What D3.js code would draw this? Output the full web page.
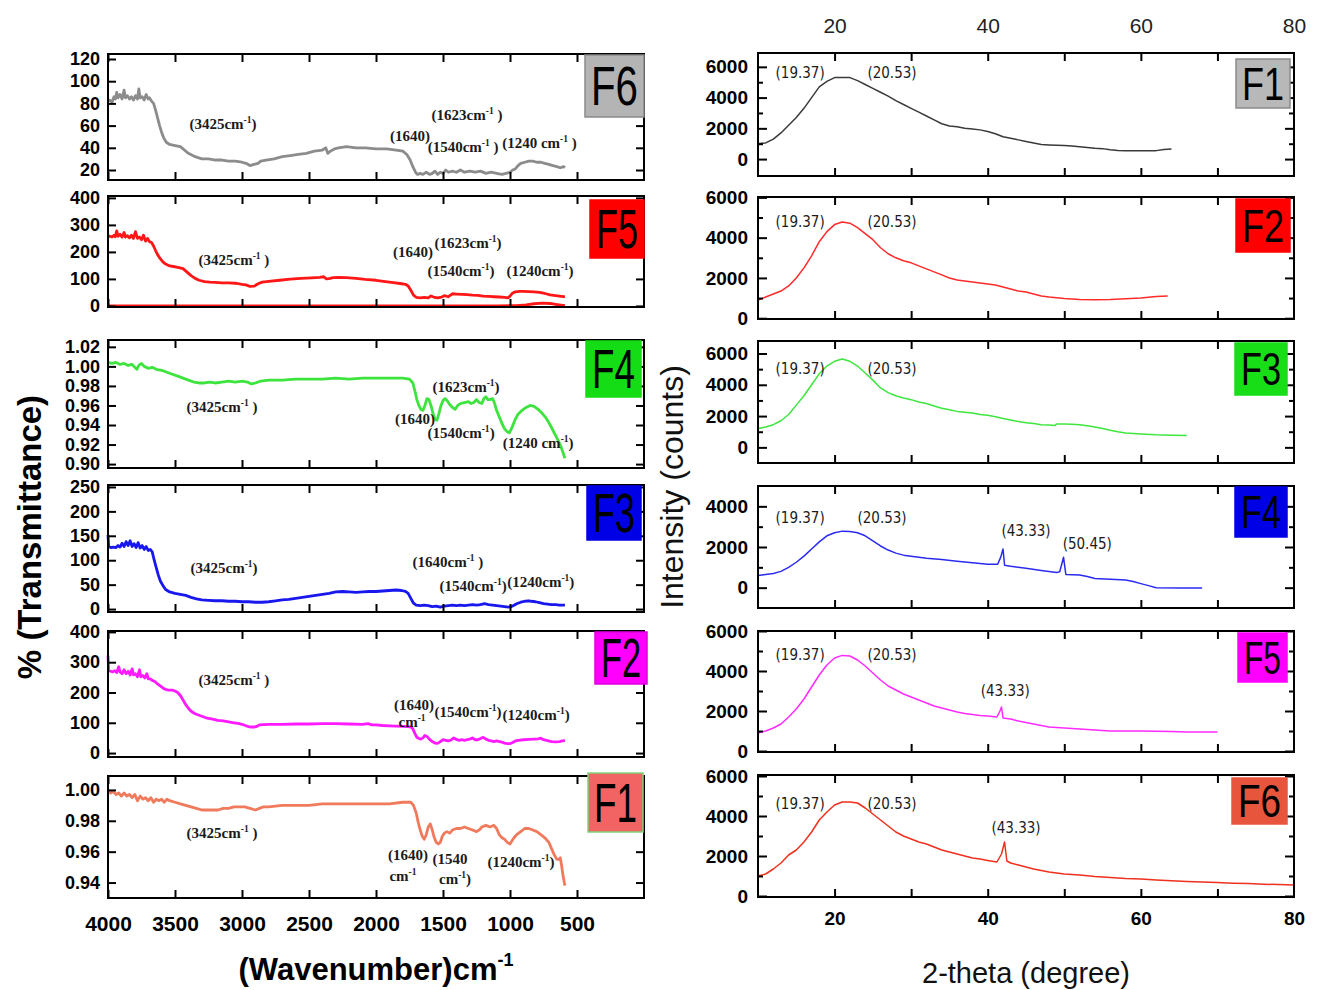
<!DOCTYPE html>
<html><head><meta charset="utf-8">
<script src="https://cdn.jsdelivr.net/npm/d3@7"></script>
<style>body{margin:0;background:#fff}</style>
</head><body>
<svg id="chart" width="1317" height="990"></svg>
<script>
// ================= DATA =================
const ftirXTicks = [4000,3500,3000,2500,2000,1500,1000,500];
const xrdXLabels = [20,40,60,80];
const xrdXTicks = [20,30,40,50,60,70];
const xrdYLabels = [0,2000,4000,6000];
const xrdF4YLabels = [0,2000,4000];

const ftirF6Ticks = [20,40,60,80,100,120];
const ftirF5Ticks = [0,100,200,300,400];
const ftirF4Ticks = [0.90,0.92,0.94,0.96,0.98,1.00,1.02];
const ftirF3Ticks = [0,50,100,150,200,250];
const ftirF2Ticks = [0,100,200,300,400];
const ftirF1Ticks = [0.94,0.96,0.98,1.00];

const ftirF6Domain = [11,124.5];
const ftirF5Domain = [-4,407];
const ftirF4Domain = [0.896,1.027];
const ftirF3Domain = [-6,254];
const ftirF2Domain = [-13,403];
const ftirF1Domain = [0.930,1.009];

const xrdF1Domain = [-1100,6900];
const xrdF2Domain = [-40,6020];
const xrdF3Domain = [-1000,6800];
const xrdF4Domain = [-1000,5000];
const xrdF5Domain = [-50,6000];
const xrdF6Domain = [-50,6050];

const ftirF6 = [[4000,82],[3985,83],[3970,81],[3955,86],[3945,84],[3935,90],[3925,85],[3910,88],[3895,84],[3880,92],[3870,85],[3855,87],[3840,84],[3825,86],[3810,83],[3795,87],[3780,84],[3770,93],[3760,85],[3745,86],[3730,83],[3715,88],[3700,84],[3690,85],[3675,82],[3660,80],[3645,74],[3630,67],[3615,60],[3600,54],[3585,49],[3565,45],[3540,43],[3500,42],[3460,41],[3430,38],[3400,35],[3350,32],[3300,30],[3250,30],[3200,29],[3150,29],[3100,28],[3050,28],[3000,27],[2970,26],[2940,24],[2910,25],[2880,26],[2860,28],[2820,29],[2760,30],[2700,32],[2640,33],[2580,34],[2520,35],[2460,37],[2400,38],[2375,40],[2360,35],[2340,37],[2310,39],[2280,40],[2220,41],[2150,40],[2080,40],[2000,39],[1920,39],[1850,38],[1800,37],[1770,34],[1745,29],[1725,23],[1705,18],[1690,16],[1670,17],[1650,16],[1625,18],[1600,16],[1580,17],[1560,19],[1540,16],[1520,18],[1500,17],[1480,20],[1460,18],[1430,19],[1400,18],[1370,20],[1340,18],[1300,19],[1260,18],[1220,19],[1180,17],[1140,18],[1100,17],[1060,16],[1030,17],[1000,18],[980,20],[960,21],[940,24],[920,26],[890,27],[860,28],[830,28],[800,27],[770,27],[740,26],[710,25],[680,24],[650,23],[625,22],[600,23],[590,22]];

const ftirF5 = [[4000,258],[3985,258],[3970,255],[3955,262],[3945,256],[3935,278],[3925,258],[3910,265],[3895,255],[3880,272],[3870,255],[3855,260],[3840,252],[3825,262],[3810,250],[3795,275],[3780,250],[3765,255],[3750,245],[3735,262],[3720,240],[3705,250],[3690,238],[3675,235],[3660,222],[3645,205],[3630,190],[3610,175],[3590,163],[3570,155],[3540,148],[3500,145],[3470,142],[3440,138],[3410,125],[3380,112],[3350,102],[3320,95],[3280,90],[3240,88],[3200,87],[3150,85],[3100,85],[3050,84],[3000,80],[2970,78],[2940,72],[2910,73],[2880,82],[2850,88],[2800,91],[2720,95],[2640,99],[2560,102],[2480,104],[2420,106],[2390,108],[2370,100],[2350,101],[2320,105],[2280,106],[2220,105],[2150,102],[2080,98],[2000,95],[1930,90],[1870,86],[1820,83],[1780,80],[1760,74],[1740,58],[1720,40],[1700,32],[1670,30],[1640,32],[1610,30],[1590,37],[1570,33],[1540,30],[1510,33],[1490,38],[1460,34],[1430,45],[1400,44],[1360,43],[1320,42],[1280,40],[1240,39],[1200,36],[1160,35],[1120,34],[1080,33],[1040,32],[1015,30],[1000,36],[980,48],[960,52],[930,54],[900,54],[860,53],[820,52],[780,50],[740,46],[700,41],[660,38],[630,36],[600,34],[590,35]];
const ftirF5Base = [[4000,0],[3000,0],[2000,0],[1100,0],[950,1],[880,4],[820,8],[760,10],[700,9],[660,6],[620,3],[590,1]];

const ftirF4 = [[4000,1.004],[3970,1.003],[3940,1.004],[3910,1.002],[3880,1.003],[3850,1.001],[3820,1.002],[3800,0.999],[3785,0.997],[3770,1.001],[3750,1.003],[3730,1.000],[3700,0.998],[3670,0.999],[3640,0.997],[3600,0.996],[3560,0.994],[3520,0.992],[3480,0.990],[3440,0.988],[3400,0.986],[3360,0.984],[3320,0.983],[3280,0.983],[3240,0.984],[3200,0.983],[3150,0.984],[3100,0.985],[3050,0.984],[3000,0.985],[2960,0.984],[2930,0.982],[2900,0.983],[2860,0.985],[2800,0.986],[2700,0.986],[2600,0.987],[2500,0.987],[2400,0.987],[2300,0.988],[2200,0.987],[2100,0.988],[2000,0.988],[1900,0.988],[1800,0.988],[1750,0.987],[1725,0.983],[1710,0.975],[1695,0.966],[1680,0.960],[1665,0.956],[1650,0.955],[1635,0.960],[1620,0.967],[1605,0.966],[1590,0.960],[1575,0.952],[1560,0.946],[1545,0.945],[1530,0.952],[1515,0.960],[1500,0.965],[1485,0.967],[1470,0.965],[1450,0.961],[1430,0.958],[1410,0.956],[1390,0.960],[1370,0.962],[1340,0.963],[1310,0.964],[1290,0.962],[1270,0.963],[1250,0.966],[1230,0.963],[1210,0.962],[1195,0.967],[1180,0.969],[1165,0.966],[1150,0.966],[1130,0.967],[1115,0.962],[1100,0.955],[1085,0.950],[1070,0.945],[1055,0.940],[1040,0.936],[1020,0.933],[1005,0.932],[990,0.936],[975,0.941],[960,0.946],[940,0.951],[910,0.955],[880,0.958],[850,0.960],[820,0.959],[790,0.956],[760,0.952],[730,0.947],[700,0.940],[670,0.932],[640,0.924],[620,0.918],[605,0.912],[590,0.906]];

const ftirF3 = [[4000,152],[3995,128],[3980,126],[3960,127],[3940,126],[3925,130],[3910,127],[3895,135],[3880,128],[3865,138],[3850,130],[3835,140],[3820,128],[3805,134],[3790,126],[3775,136],[3760,125],[3745,130],[3730,122],[3715,128],[3700,120],[3685,122],[3670,117],[3655,100],[3640,85],[3625,70],[3610,58],[3590,48],[3570,40],[3540,35],[3500,32],[3460,30],[3420,28],[3380,24],[3340,21],[3300,19],[3250,18],[3200,17],[3150,17],[3100,16],[3050,16],[3000,15],[2950,15],[2900,14],[2850,14],[2800,15],[2750,17],[2700,19],[2650,20],[2600,22],[2550,24],[2500,26],[2450,28],[2400,30],[2350,32],[2300,35],[2250,36],[2200,35],[2150,34],[2100,35],[2050,36],[2000,36],[1950,37],[1900,38],[1850,39],[1810,38],[1780,36],[1760,32],[1740,22],[1720,12],[1700,8],[1670,7],[1640,8],[1610,7],[1580,5],[1550,6],[1520,4],[1490,6],[1460,7],[1430,8],[1400,7],[1370,8],[1340,7],[1310,8],[1280,9],[1250,8],[1220,9],[1190,11],[1160,9],[1130,8],[1100,7],[1070,6],[1040,5],[1010,4],[990,5],[970,8],[950,11],[920,14],[890,16],[860,17],[840,16],[810,15],[780,13],[750,11],[720,10],[690,9],[660,9],[630,8],[600,8],[590,8]];

const ftirF2 = [[4000,322],[3995,272],[3980,270],[3965,268],[3950,272],[3935,266],[3920,285],[3910,268],[3895,262],[3880,275],[3865,262],[3850,270],[3835,258],[3820,278],[3810,258],[3795,262],[3780,252],[3765,275],[3755,252],[3740,256],[3725,248],[3710,262],[3700,245],[3685,245],[3670,240],[3650,236],[3630,228],[3610,222],[3590,215],[3570,210],[3550,208],[3520,208],[3500,205],[3480,200],[3460,190],[3440,175],[3420,160],[3400,148],[3380,138],[3350,130],[3320,125],[3290,120],[3260,115],[3220,112],[3180,108],[3140,106],[3100,103],[3060,100],[3030,98],[3000,95],[2970,90],[2940,86],[2910,86],[2890,88],[2870,93],[2840,94],[2800,95],[2700,95],[2600,96],[2500,96],[2400,97],[2300,97],[2200,96],[2100,95],[2060,97],[2030,93],[2000,93],[1950,91],[1900,90],[1850,89],[1800,88],[1760,87],[1740,86],[1725,80],[1710,65],[1695,52],[1680,48],[1665,46],[1650,50],[1635,58],[1620,55],[1600,45],[1580,38],[1560,33],[1540,32],[1520,38],[1500,44],[1480,42],[1460,40],[1440,43],[1420,50],[1400,45],[1380,42],[1360,44],[1340,42],[1320,44],[1300,46],[1280,50],[1260,44],[1240,44],[1220,48],[1200,52],[1180,46],[1160,42],[1140,40],[1120,38],[1100,40],[1080,38],[1060,36],[1040,33],[1020,31],[1000,31],[980,35],[960,40],[940,42],[900,44],[860,45],[820,46],[790,47],[770,49],[750,44],[720,41],[690,38],[660,37],[630,38],[610,40],[590,41]];

const ftirF1 = [[4000,1.000],[3980,0.998],[3960,0.999],[3940,0.997],[3920,0.998],[3900,0.996],[3880,0.998],[3860,0.996],[3840,0.997],[3820,0.995],[3800,0.997],[3780,0.993],[3760,0.996],[3740,0.994],[3720,0.995],[3700,0.993],[3680,0.995],[3660,0.992],[3640,0.994],[3620,0.993],[3600,0.994],[3580,0.992],[3560,0.994],[3540,0.993],[3500,0.992],[3460,0.991],[3420,0.990],[3380,0.989],[3340,0.988],[3300,0.987],[3260,0.987],[3220,0.987],[3180,0.987],[3140,0.988],[3100,0.988],[3060,0.989],[3020,0.989],[2980,0.989],[2940,0.988],[2900,0.987],[2870,0.988],[2840,0.989],[2800,0.989],[2700,0.990],[2600,0.990],[2500,0.990],[2400,0.991],[2300,0.991],[2200,0.991],[2100,0.991],[2000,0.991],[1900,0.991],[1800,0.992],[1740,0.992],[1720,0.990],[1700,0.985],[1685,0.979],[1670,0.974],[1655,0.970],[1640,0.968],[1625,0.971],[1610,0.976],[1595,0.978],[1580,0.974],[1565,0.969],[1550,0.966],[1535,0.965],[1520,0.966],[1505,0.970],[1490,0.972],[1470,0.973],[1450,0.972],[1430,0.974],[1400,0.975],[1370,0.975],[1340,0.976],[1310,0.975],[1280,0.974],[1250,0.973],[1230,0.974],[1210,0.976],[1180,0.977],[1150,0.976],[1120,0.977],[1100,0.975],[1080,0.971],[1060,0.969],[1040,0.968],[1020,0.966],[1000,0.965],[985,0.967],[970,0.969],[950,0.971],[920,0.973],[890,0.975],[860,0.975],[830,0.974],[800,0.973],[770,0.971],[740,0.969],[710,0.966],[690,0.962],[670,0.958],[650,0.955],[635,0.955],[625,0.956],[615,0.951],[605,0.945],[595,0.940],[590,0.938]];

const xrdF1 = [[10,1000],[11,1050],[12,1300],[13,1700],[14,2200],[15,2700],[16,3300],[17,4000],[18,4700],[19,5050],[20,5300],[21,5300],[22,5300],[23,5100],[24,4850],[25,4600],[26,4350],[27,4100],[28,3800],[29,3550],[30,3300],[31,3050],[32,2800],[33,2550],[34,2300],[35,2150],[36,2100],[37,2000],[38,1950],[39,1900],[40,1800],[41,1650],[42,1450],[43,1350],[44,1250],[45,1150],[46,1050],[47,950],[48,920],[49,900],[50,880],[51,850],[52,800],[53,750],[54,700],[55,680],[56,600],[57,560],[58,550],[60,550],[62,550],[63,620],[64,650]];
const xrdF2 = [[10,900],[11,1050],[12,1200],[13,1350],[14,1600],[15,2000],[16,2500],[17,3100],[18,3800],[19,4300],[20,4650],[21,4780],[22,4720],[23,4500],[24,4200],[25,3900],[26,3500],[27,3200],[28,3000],[29,2850],[30,2750],[31,2600],[32,2450],[33,2300],[34,2150],[35,2000],[36,1900],[37,1850],[38,1800],[39,1750],[40,1700],[41,1650],[42,1550],[43,1450],[44,1350],[45,1300],[46,1200],[47,1100],[48,1050],[50,980],[52,930],[54,920],[56,930],[58,960],[60,1000],[62,1080],[63.5,1100]];
const xrdF3 = [[10,1200],[11,1300],[12,1450],[13,1700],[14,2100],[15,2700],[16,3300],[17,4000],[18,4700],[19,5200],[20,5500],[21,5650],[22,5500],[23,5200],[24,4750],[25,4300],[26,3800],[27,3500],[28,3300],[29,3150],[30,3050],[31,2900],[32,2800],[33,2650],[34,2500],[35,2400],[36,2300],[37,2250],[38,2200],[39,2100],[40,2050],[41,1950],[42,1850],[43,1750],[44,1650],[45,1580],[46,1520],[47,1450],[48,1430],[48.8,1400],[49,1500],[50,1500],[51,1480],[52,1450],[53,1380],[54,1300],[55,1200],[56,1100],[57,1000],[58,920],[60,850],[62,800],[64,780],[66,760]];
const xrdF4 = [[10,600],[11,650],[12,700],[13,800],[14,1000],[15,1250],[16,1550],[17,1900],[18,2250],[19,2550],[20,2700],[21,2780],[22,2760],[23,2700],[24,2550],[25,2300],[26,2050],[27,1850],[28,1700],[29,1600],[30,1550],[32,1450],[34,1380],[36,1300],[38,1220],[40,1150],[41.3,1150],[41.7,1500],[42.0,1900],[42.2,1100],[43,1050],[45,950],[47,850],[49,750],[49.4,780],[49.7,1200],[49.9,1500],[50.2,650],[52,620],[53,550],[54,450],[56,420],[58,380],[59,300],[60,200],[61,100],[62,0],[65,-20],[68,-20]];
const xrdF5 = [[10,900],[11,1000],[12,1150],[13,1350],[14,1700],[15,2100],[16,2600],[17,3200],[18,3800],[19,4300],[20,4650],[21,4780],[22,4750],[23,4550],[24,4250],[25,3900],[26,3550],[27,3250],[28,3050],[29,2850],[30,2700],[31,2550],[32,2400],[33,2250],[34,2150],[35,2050],[36,1950],[37,1880],[38,1820],[39,1780],[40,1750],[41.2,1700],[41.6,2000],[41.8,2200],[42,1650],[43,1600],[44,1500],[45,1420],[46,1350],[47,1270],[48,1200],[50,1150],[52,1100],[54,1050],[56,1000],[58,1000],[60,1000],[62,990],[64,980],[66,950],[68,950],[70,950]];
const xrdF6 = [[10,1000],[11,1100],[12,1350],[13,1650],[14,2050],[15,2300],[16,2700],[17,3200],[18,3800],[19,4200],[20,4550],[21,4700],[22,4700],[23,4650],[24,4400],[25,4100],[26,3800],[27,3500],[28,3200],[29,3000],[30,2850],[31,2700],[32,2600],[33,2450],[34,2300],[35,2200],[36,2100],[37,2000],[38,1900],[39,1850],[40,1780],[41.2,1700],[41.8,2100],[42.2,2700],[42.5,1750],[43,1650],[44,1550],[45,1450],[46,1350],[47,1280],[48,1200],[50,1100],[52,1050],[54,980],[56,930],[58,880],[60,850],[62,800],[64,760],[66,730],[68,700],[70,670],[72,640],[74,620],[76,590],[78,570],[80,550]];

// annotations: [text, x-value, y-value]  ("^-1" = superscript)
const ftirF6Notes = [["(3425cm^-1)",3142,61.4],["(1623cm^-1 )",1321,70],["(1640)",1746,50.6],["(1540cm^-1 )",1350,40.7],["(1240 cm^-1 )",780,44.3]];
const ftirF5Notes = [["(3425cm^-1 )",3060,170],["(1640)",1724,200],["(1623cm^-1)",1313,233],["(1540cm^-1)",1366,130],["(1240cm^-1)",776,130]];
const ftirF4Notes = [["(1623cm^-1)",1328,0.979],["(3425cm^-1 )",3149,0.958],["(1640)",1709,0.946],["(1540cm^-1)",1365,0.932],["(1240 cm^-1)",790,0.9215]];
const ftirF3Notes = [["(3425cm^-1)",3134,84],["(1640cm^-1 )",1463,96],["(1540cm^-1)",1275,47],["(1240cm^-1)",770,55]];
const ftirF2Notes = [["(3425cm^-1 )",3060,241],["(1640)",1716,159],["cm^-1",1731,102],["(1540cm^-1)",1313,136],["(1240cm^-1)",805,126]];
const ftirF1Notes = [["(3425cm^-1 )",3149,0.972],["(1640)",1761,0.958],["cm^-1",1799,0.9445],["(1540",1448,0.955],["cm^-1)",1410,0.942],["(1240cm^-1)",918,0.9535]];

const xrdF1Notes = [["(19.37)",15.5,5610],["(20.53)",27.5,5610]];
const xrdF2Notes = [["(19.37)",15.5,4800],["(20.53)",27.5,4800]];
const xrdF3Notes = [["(19.37)",15.5,5020],["(20.53)",27.5,5020]];
const xrdF4Notes = [["(19.37)",15.5,3415],["(20.53)",26.2,3415],["(43.33)",45,2780],["(50.45)",53,2146]];
const xrdF5Notes = [["(19.37)",15.5,4800],["(20.53)",27.5,4800],["(43.33)",42.3,3000]];
const xrdF6Notes = [["(19.37)",15.5,4600],["(20.53)",27.5,4600],["(43.33)",43.7,3415]];

// ================= DRAWING =================
const svg = d3.select("#chart");
const LX = d3.scaleLinear().domain([4000,0]).range([108,644]);
const RX = d3.scaleLinear().domain([10,80]).range([758,1294]);

const leftPanels = [
  {name:"F6", data:[ftirF6], domain:ftirF6Domain, ticks:ftirF6Ticks, fmt:d3.format("d"), top:54, bottom:180, color:"#8c8c8c", notes:ftirF6Notes, box:[585,55,59,62], fill:"#b4b4b4", stroke:"#8a8a8a"},
  {name:"F5", data:[ftirF5, ftirF5Base], domain:ftirF5Domain, ticks:ftirF5Ticks, fmt:d3.format("d"), top:196, bottom:307, color:"#ff1616", notes:ftirF5Notes, box:[590,200,54,58], fill:"#ff0000", stroke:"#ff0000"},
  {name:"F4", data:[ftirF4], domain:ftirF4Domain, ticks:ftirF4Ticks, fmt:d3.format(".2f"), top:340, bottom:468, color:"#3ee43e", notes:ftirF4Notes, box:[586,341,55,56], fill:"#15dd15", stroke:"#15dd15"},
  {name:"F3", data:[ftirF3], domain:ftirF3Domain, ticks:ftirF3Ticks, fmt:d3.format("d"), top:485, bottom:612, color:"#1717ee", notes:ftirF3Notes, box:[587,486,54,54], fill:"#0000e6", stroke:"#0000e6"},
  {name:"F2", data:[ftirF2], domain:ftirF2Domain, ticks:ftirF2Ticks, fmt:d3.format("d"), top:631, bottom:757, color:"#ff1aff", notes:ftirF2Notes, box:[595,632,52,52], fill:"#ff00ff", stroke:"#dd00dd"},
  {name:"F1", data:[ftirF1], domain:ftirF1Domain, ticks:ftirF1Ticks, fmt:d3.format(".2f"), top:776, bottom:898, color:"#f07a5c", notes:ftirF1Notes, box:[588,773,55,59], fill:"#f26464", stroke:"#7fd27a"}
];
const rightPanels = [
  {name:"F1", data:xrdF1, domain:xrdF1Domain, labels:xrdYLabels, top:53, bottom:176, color:"#3a3a3a", notes:xrdF1Notes, box:[1236,59,54,49], fill:"#b8b8b8", stroke:"#8a8a8a"},
  {name:"F2", data:xrdF2, domain:xrdF2Domain, labels:xrdYLabels, top:197, bottom:319, color:"#ff2a2a", notes:xrdF2Notes, box:[1236,199,54,53], fill:"#ff0000", stroke:"#ff0000"},
  {name:"F3", data:xrdF3, domain:xrdF3Domain, labels:xrdYLabels, top:341, bottom:463, color:"#3ee63e", notes:xrdF3Notes, box:[1235,343,52,52], fill:"#18de18", stroke:"#18de18"},
  {name:"F4", data:xrdF4, domain:xrdF4Domain, labels:xrdF4YLabels, top:486, bottom:608, color:"#2b2bf0", notes:xrdF4Notes, box:[1235,487,52,50], fill:"#0000e6", stroke:"#0000e6"},
  {name:"F5", data:xrdF5, domain:xrdF5Domain, labels:xrdYLabels, top:631, bottom:752, color:"#ff2aff", notes:xrdF5Notes, box:[1238,633,49,49], fill:"#ff00ff", stroke:"#ff00ff"},
  {name:"F6", data:xrdF6, domain:xrdF6Domain, labels:xrdYLabels, top:775, bottom:897, color:"#f0301e", notes:xrdF6Notes, box:[1232,778,55,46], fill:"#e8553d", stroke:"#e8553d"}
];

function rich(textSel, str, supSize){
  const parts = str.split("^-1");
  parts.forEach((p,i)=>{
    if(i>0){
      textSel.append("tspan").attr("dy",-6).attr("font-size",supSize).text("-1");
      textSel.append("tspan").attr("dy",6).text(p);
    } else textSel.append("tspan").text(p);
  });
}

function styleAxis(g){
  g.select(".domain").remove();
  g.selectAll(".tick line").attr("stroke","#000").attr("stroke-width",2);
}

// Left panels
leftPanels.forEach((p,idx)=>{
  const y = d3.scaleLinear().domain(p.domain).range([p.bottom,p.top]);
  const g = svg.append("g");
  const line = d3.line().x(d=>LX(d[0])).y(d=>y(d[1]));
  g.append("g").selectAll("path").data(p.data).join("path")
    .attr("d",line).attr("fill","none").attr("stroke",p.color)
    .attr("stroke-width",2.8).attr("stroke-linejoin","round");
  g.append("g").attr("transform","translate(108,0)")
    .call(d3.axisLeft(y).tickValues(p.ticks).tickFormat(p.fmt).tickSize(-8).tickPadding(8))
    .call(styleAxis)
    .call(a=>a.selectAll("text").attr("font-family","Liberation Sans, Arial, sans-serif").attr("font-weight","bold").attr("font-size",18).attr("fill","#000"));
  g.append("g").attr("transform","translate(644,0)")
    .call(d3.axisRight(y).tickValues(p.ticks).tickFormat("").tickSize(-8)).call(styleAxis);
  g.append("g").attr("transform",`translate(0,${p.top})`)
    .call(d3.axisTop(LX).tickValues(ftirXTicks).tickFormat("").tickSize(-8)).call(styleAxis);
  const bx = g.append("g").attr("transform",`translate(0,${p.bottom})`)
    .call(d3.axisBottom(LX).tickValues(ftirXTicks).tickSize(-8).tickPadding(18)
      .tickFormat(idx===leftPanels.length-1 ? d3.format("d") : ""))
    .call(styleAxis);
  bx.selectAll("text").attr("font-family","Liberation Sans, Arial, sans-serif").attr("font-weight","bold").attr("font-size",21).attr("fill","#000");
  g.append("rect").attr("x",108).attr("y",p.top).attr("width",644-108).attr("height",p.bottom-p.top)
    .attr("fill","none").attr("stroke","#000").attr("stroke-width",2);
  g.append("rect").attr("x",p.box[0]).attr("y",p.box[1]).attr("width",p.box[2]).attr("height",p.box[3])
    .attr("fill",p.fill).attr("stroke",p.stroke).attr("stroke-width",1.5);
  g.append("text").attr("x",p.box[0]+p.box[2]/2).attr("y",p.box[1]+p.box[3]/2+19)
    .attr("text-anchor","middle").attr("font-family","Liberation Sans, Arial, sans-serif")
    .attr("font-size",56).attr("textLength",p.box[2]-12).attr("lengthAdjust","spacingAndGlyphs")
    .attr("fill","#000").text(p.name);
  p.notes.forEach(n=>{
    const t = g.append("text").attr("x",LX(n[1])).attr("y",y(n[2])+5).attr("text-anchor","middle")
      .attr("font-family","Liberation Serif, Times New Roman, serif").attr("font-weight","bold")
      .attr("font-size",15).attr("fill","#1b1b1b");
    rich(t,n[0],9.5);
  });
});

// Right panels
rightPanels.forEach((p,idx)=>{
  const y = d3.scaleLinear().domain(p.domain).range([p.bottom,p.top]);
  const g = svg.append("g");
  const line = d3.line().x(d=>RX(d[0])).y(d=>y(d[1]));
  g.append("path").datum(p.data).attr("d",line).attr("fill","none").attr("stroke",p.color)
    .attr("stroke-width",1.5).attr("stroke-linejoin","round");
  const minor = d3.range(Math.ceil(p.domain[0]/1000)*1000, p.domain[1]+1, 1000)
    .filter(v=>!p.labels.includes(v) && y(v) > p.top+3 && y(v) < p.bottom-3);
  g.append("g").attr("transform","translate(758,0)")
    .call(d3.axisLeft(y).tickValues(p.labels).tickFormat(d3.format("d")).tickSize(-9).tickPadding(10))
    .call(styleAxis)
    .call(a=>a.selectAll("text").attr("font-family","Liberation Sans, Arial, sans-serif").attr("font-weight","bold").attr("font-size",19).attr("fill","#000"));
  g.append("g").attr("transform","translate(758,0)")
    .call(d3.axisLeft(y).tickValues(minor).tickFormat("").tickSize(-5)).call(styleAxis);
  g.append("g").attr("transform","translate(1294,0)")
    .call(d3.axisRight(y).tickValues(p.labels).tickFormat("").tickSize(-9)).call(styleAxis);
  g.append("g").attr("transform","translate(1294,0)")
    .call(d3.axisRight(y).tickValues(minor).tickFormat("").tickSize(-5)).call(styleAxis);
  g.append("g").attr("transform",`translate(0,${p.top})`)
    .call(d3.axisTop(RX).tickValues(xrdXTicks).tickFormat("").tickSize(-8)).call(styleAxis);
  g.append("g").attr("transform",`translate(0,${p.bottom})`)
    .call(d3.axisBottom(RX).tickValues(xrdXTicks).tickFormat("").tickSize(-8)).call(styleAxis);
  g.append("rect").attr("x",758).attr("y",p.top).attr("width",1294-758).attr("height",p.bottom-p.top)
    .attr("fill","none").attr("stroke","#000").attr("stroke-width",2);
  g.append("rect").attr("x",p.box[0]).attr("y",p.box[1]).attr("width",p.box[2]).attr("height",p.box[3])
    .attr("fill",p.fill).attr("stroke",p.stroke).attr("stroke-width",1.5);
  g.append("text").attr("x",p.box[0]+p.box[2]/2).attr("y",p.box[1]+p.box[3]/2+16)
    .attr("text-anchor","middle").attr("font-family","Liberation Sans, Arial, sans-serif")
    .attr("font-size",47).attr("textLength",p.box[2]-12).attr("lengthAdjust","spacingAndGlyphs")
    .attr("fill","#000").text(p.name);
  p.notes.forEach(n=>{
    g.append("text").attr("x",RX(n[1])).attr("y",y(n[2])+5).attr("text-anchor","middle")
      .attr("font-family","DejaVu Sans Condensed, DejaVu Sans, sans-serif").attr("font-stretch","condensed")
      .attr("font-size",15).attr("fill","#1b1b1b").text(n[0]);
  });
  if(idx===0){
    const tg = g.append("g").attr("transform",`translate(0,${p.top-20})`)
      .call(d3.axisTop(RX).tickValues(xrdXLabels).tickSize(0).tickPadding(0).tickFormat(d3.format("d")));
    tg.select(".domain").remove();
    tg.selectAll("text").attr("font-family","Liberation Sans, Arial, sans-serif").attr("font-size",21).attr("fill","#222");
  }
  if(idx===rightPanels.length-1){
    const bg = g.append("g").attr("transform",`translate(0,${p.bottom+14})`)
      .call(d3.axisBottom(RX).tickValues(xrdXLabels).tickSize(0).tickPadding(0).tickFormat(d3.format("d")));
    bg.select(".domain").remove();
    bg.selectAll("text").attr("font-family","Liberation Sans, Arial, sans-serif").attr("font-weight","bold").attr("font-size",19).attr("fill","#000");
  }
});

// Axis titles
svg.append("text").attr("transform","translate(41,537) rotate(-90)").attr("text-anchor","middle")
  .attr("font-family","Liberation Sans, Arial, sans-serif").attr("font-weight","bold").attr("font-size",33)
  .attr("fill","#000").text("% (Transmittance)");
const wt = svg.append("text").attr("x",376).attr("y",980).attr("text-anchor","middle")
  .attr("font-family","Liberation Sans, Arial, sans-serif").attr("font-weight","bold").attr("font-size",31).attr("fill","#000");
wt.append("tspan").text("(Wavenumber)cm");
wt.append("tspan").attr("dy",-14).attr("font-size",18).text("-1");
svg.append("text").attr("transform","translate(683,487) rotate(-90)").attr("text-anchor","middle")
  .attr("font-family","Liberation Sans, Arial, sans-serif").attr("font-size",32).attr("fill","#111")
  .text("Intensity (counts)");
svg.append("text").attr("x",1026).attr("y",983).attr("text-anchor","middle")
  .attr("font-family","Liberation Sans, Arial, sans-serif").attr("font-size",29).attr("fill","#111")
  .text("2-theta (degree)");
</script>
</body></html>
